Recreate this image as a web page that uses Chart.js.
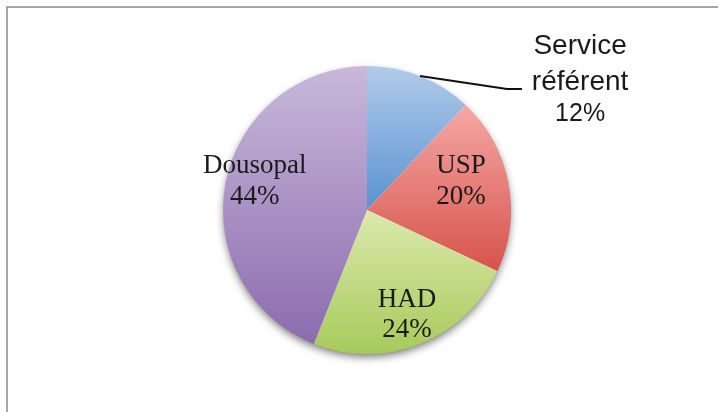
<!DOCTYPE html>
<html>
<head>
<meta charset="utf-8">
<script src="https://cdn.jsdelivr.net/npm/chart.js@4.4.1/dist/chart.umd.min.js"></script>
<style>
html,body{margin:0;padding:0;background:#fff;}
#wrap{position:relative;width:718px;height:412px;}
</style>
</head>
<body>
<div id="wrap"><canvas id="c" width="718" height="412"></canvas></div>
<script>
// ---- Data ----
const categories = ["Service référent", "USP", "HAD", "Dousopal"];
const values = [12, 20, 24, 44];
const valueLabels = ["12%", "20%", "24%", "44%"];

// ---- Styles ----
const gradTop = ["#b1cbea", "#f5a8a5", "#dce9ad", "#c9b8da"];
const gradBottom = ["#5a92d0", "#d6534c", "#a7ca5b", "#8b6caf"];
// label placement in units of radius (dx, baseline dy per line)
const labelPos = [
  {dx: 1.48, dy: [-1.085, -0.835, -0.62], sans: true},
  {dx: 0.653, dy: [-0.255, -0.045]},
  {dx: 0.278, dy: [0.675, 0.885]},
  {dx: -0.78, dy: [-0.255, -0.045]}
];

function sliceYRange(chart, i) {
  const a = chart.chartArea;
  const cx = (a.left + a.right) / 2, cy = (a.top + a.bottom) / 2;
  const r = Math.min(a.right - a.left, a.bottom - a.top) / 2;
  const total = values.reduce((s, v) => s + v, 0);
  let cum = 0;
  for (let k = 0; k < i; k++) cum += values[k];
  const s = -Math.PI / 2 + 2 * Math.PI * cum / total;
  const e = -Math.PI / 2 + 2 * Math.PI * (cum + values[i]) / total;
  let minY = cy, maxY = cy;
  for (let t = 0; t <= 100; t++) {
    const th = s + (e - s) * t / 100;
    const y = cy + r * Math.sin(th);
    minY = Math.min(minY, y); maxY = Math.max(maxY, y);
  }
  return [minY, maxY];
}

const shadowPlugin = {
  id: 'shadowPie',
  beforeDraw(chart) {
    const ctx = chart.ctx;
    ctx.save();
    ctx.strokeStyle = '#a6a6a6';
    ctx.lineWidth = 2;
    ctx.beginPath();
    ctx.moveTo(7, 412);
    ctx.lineTo(7, 7);
    ctx.lineTo(718, 7);
    ctx.stroke();
    ctx.restore();
  },
  beforeDatasetsDraw(chart) {
    const meta = chart.getDatasetMeta(0);
    const arc = meta.data[0];
    if (!arc) return;
    const ctx = chart.ctx;
    ctx.save();
    ctx.shadowColor = 'rgba(0,0,0,0.55)';
    ctx.shadowBlur = 9;
    ctx.shadowOffsetY = 4;
    ctx.fillStyle = '#ffffff';
    ctx.beginPath();
    ctx.arc(arc.x, arc.y, arc.outerRadius - 1, 0, Math.PI * 2);
    ctx.fill();
    ctx.restore();
  }
};

const labelPlugin = {
  id: 'pieLabels',
  afterDatasetsDraw(chart) {
    const meta = chart.getDatasetMeta(0);
    const ctx = chart.ctx;
    ctx.save();
    ctx.fillStyle = '#1a1a1a';
    ctx.textAlign = 'center';
    ctx.textBaseline = 'alphabetic';
    meta.data.forEach((arc, i) => {
      const r = arc.outerRadius;
      const p = labelPos[i];
      const x = arc.x + p.dx * r;
      if (p.sans) {
        const words = categories[i].split(' ');
        ctx.font = '28px "Liberation Sans", Arial, sans-serif';
        ctx.fillText(words[0], x, arc.y + p.dy[0] * r);
        ctx.fillText(words[1], x, arc.y + p.dy[1] * r);
        ctx.font = '25px "Liberation Sans", Arial, sans-serif';
        ctx.fillText(valueLabels[i], x, arc.y + p.dy[2] * r);
        // leader line
        const mid = (arc.startAngle + arc.endAngle) / 2;
        ctx.strokeStyle = '#111';
        ctx.lineWidth = 2;
        ctx.beginPath();
        ctx.moveTo(arc.x + r * Math.cos(mid), arc.y + r * Math.sin(mid));
        ctx.lineTo(arc.x + 0.972 * r, arc.y - 0.84 * r);
        ctx.lineTo(arc.x + 1.076 * r, arc.y - 0.84 * r);
        ctx.stroke();
      } else {
        ctx.font = '27px "Liberation Serif", "Times New Roman", serif';
        ctx.fillText(categories[i], x, arc.y + p.dy[0] * r);
        ctx.fillText(valueLabels[i], x, arc.y + p.dy[1] * r);
      }
    });
    ctx.restore();
  }
};

new Chart(document.getElementById('c'), {
  type: 'pie',
  data: {
    labels: categories,
    datasets: [{
      data: values,
      borderWidth: 0,
      backgroundColor(context) {
        const chart = context.chart;
        const i = context.dataIndex;
        if (!chart.chartArea || i === undefined) return gradBottom[i || 0];
        const [y0, y1] = sliceYRange(chart, i);
        const g = chart.ctx.createLinearGradient(0, y0, 0, y1);
        g.addColorStop(0, gradTop[i]);
        g.addColorStop(1, gradBottom[i]);
        return g;
      }
    }]
  },
  options: {
    responsive: false,
    animation: false,
    layout: {padding: {left: 223, right: 207, top: 66, bottom: 58}},
    plugins: {legend: {display: false}, tooltip: {enabled: false}},
    events: []
  },
  plugins: [shadowPlugin, labelPlugin]
});
</script>
</body>
</html>
